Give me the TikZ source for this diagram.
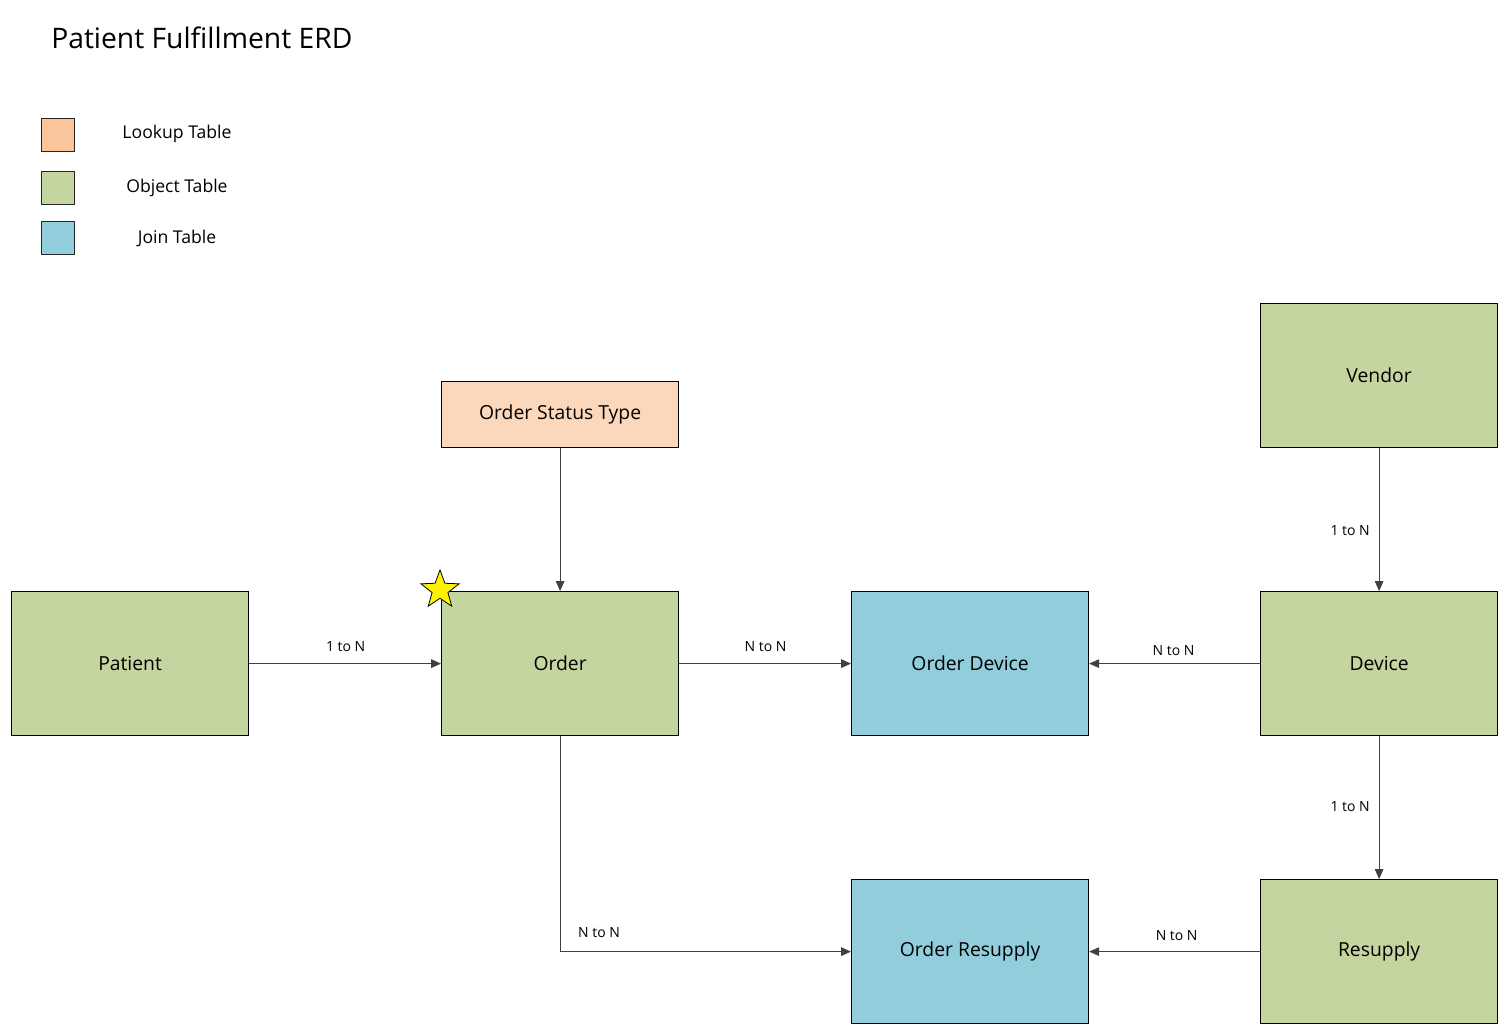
\documentclass[tikz,border=0pt]{standalone}
\usepackage{fontspec}
\setmainfont{Open Sans}
\usetikzlibrary{shapes.geometric,arrows.meta}
\definecolor{objg}{HTML}{C4D5A0}
\definecolor{joinb}{HTML}{92CDDC}
\definecolor{lookl}{HTML}{FAC59B}
\definecolor{lookb}{HTML}{FBD7BB}
\tikzset{
  ent/.style={draw=black, line width=0.9pt, minimum width=237*0.75pt, minimum height=144*0.75pt, inner sep=0pt, font=\fontsize{14.5}{17}\selectfont, anchor=north west},
  objbox/.style={ent, fill=objg},
  joinbox/.style={ent, fill=joinb},
  lookbox/.style={ent, fill=lookb, minimum height=66*0.75pt},
  legsq/.style={draw=black!85, line width=1pt, minimum width=33*0.75pt, minimum height=33*0.75pt, inner sep=0pt, anchor=north west},
  legtxt/.style={font=\fontsize{13.2}{16}\selectfont},
  rel/.style={draw=black!75, line width=0.6pt, -{Triangle[length=7.5pt,width=6.5pt]}},
  rlab/.style={font=\fontsize{10.5}{12}\selectfont, inner sep=0pt}
}
\begin{document}
\begin{tikzpicture}[x=0.75pt,y=-0.75pt]
\useasboundingbox (0,0) rectangle (1508,1034);
\node[font=\fontsize{21.2}{25}\selectfont, anchor=west, inner sep=0pt] (title) at (51,38) {Patient Fulfillment ERD};
% legend
\node[legsq, fill=lookl] (lg1) at (41,118) {};
\node[legsq, fill=objg] (lg2) at (41,171) {};
\node[legsq, fill=joinb] (lg3) at (41,221) {};
\node[legtxt] (lt1) at (177,134) {Lookup Table};
\node[legtxt] (lt2) at (177,188) {Object Table};
\node[legtxt] (lt3) at (177,238) {Join Table};
% entities
\node[objbox] (patient) at (11,591) {Patient};
\node[objbox] (order) at (441,591) {Order};
\node[joinbox] (orddev) at (851,591) {Order Device};
\node[objbox] (device) at (1260,591) {Device};
\node[objbox] (vendor) at (1260,303) {Vendor};
\node[lookbox] (ost) at (441,381) {Order Status Type};
\node[joinbox] (ordres) at (851,879) {Order Resupply};
\node[objbox] (resupply) at (1260,879) {Resupply};
% star
\node[star, star points=5, star point ratio=2.4, draw=black, line width=0.6pt, fill=yellow, minimum size=40*0.75pt, inner sep=0pt] (star) at (440,590) {};
% connectors
\draw[rel] (patient) -- node[rlab, pos=0.503, yshift=12.75pt] {1 to N} (order);
\draw[rel] (order) -- node[rlab, pos=0.503, yshift=12.75pt] {N to N} (orddev);
\draw[rel] (device) -- node[rlab, pos=0.506, yshift=9.75pt] {N to N} (orddev);
\draw[rel] (vendor) -- node[rlab, pos=0.576, xshift=-21.75pt] {1 to N} (device);
\draw[rel] (device) -- node[rlab, pos=0.493, xshift=-21.75pt] {1 to N} (resupply);
\draw[rel] (resupply) -- node[rlab, pos=0.488, yshift=12pt] {N to N} (ordres);
\draw[rel] (ost) -- (order);
\draw[rel] (order.south) |- node[rlab, pos=0.567, yshift=14.25pt] {N to N} (ordres.west);
\end{tikzpicture}
\end{document}
